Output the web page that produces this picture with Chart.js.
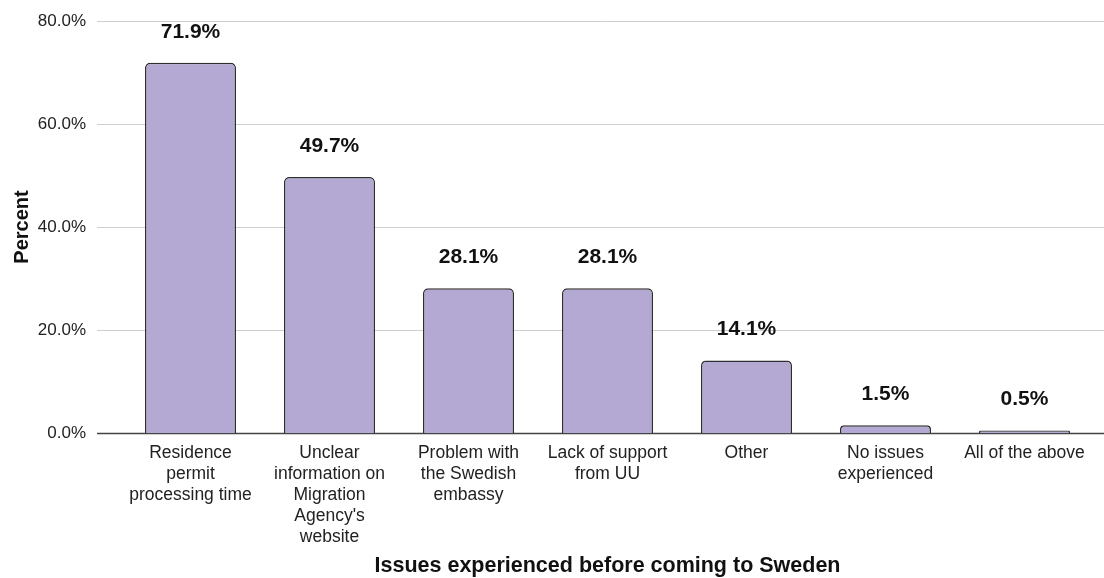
<!DOCTYPE html>
<html>
<head>
<meta charset="utf-8">
<script src="https://cdn.jsdelivr.net/npm/chart.js@4"></script>
<style>
  html, body { margin: 0; padding: 0; background: #fff; }
  #myChart { display: block; }
</style>
</head>
<body>
<canvas id="myChart" width="1104" height="578"></canvas>
<script>
const categories = [
  ["Residence", "permit", "processing time"],
  ["Unclear", "information on", "Migration", "Agency's", "website"],
  ["Problem with", "the Swedish", "embassy"],
  ["Lack of support", "from UU"],
  ["Other"],
  ["No issues", "experienced"],
  ["All of the above"]
];
const percents = [71.9, 49.7, 28.1, 28.1, 14.1, 1.5, 0.5];
const yTicks = [0, 20, 40, 60, 80];

const font = "'Liberation Sans', Arial, sans-serif";

// grid lines run wider than the bar area, so draw them by hand
const wideGrid = {
  id: 'wideGrid',
  beforeDatasetsDraw(chart) {
    const c = chart.ctx;
    const y = chart.scales.y;
    c.save();
    yTicks.forEach(t => {
      const py = Math.round(y.getPixelForValue(t)) + 0.5;
      c.beginPath();
      c.strokeStyle = t === 0 ? '#444' : '#cfcfcf';
      c.lineWidth = t === 0 ? 1.5 : 1;
      c.moveTo(97, py);
      c.lineTo(chart.width, py);
      c.stroke();
    });
    c.restore();
  }
};

const barLabels = {
  id: 'barLabels',
  afterDatasetsDraw(chart) {
    const c = chart.ctx;
    const meta = chart.getDatasetMeta(0);
    c.save();
    c.font = "bold 21px " + font;
    c.fillStyle = '#111';
    c.textAlign = 'center';
    c.textBaseline = 'middle';
    meta.data.forEach((bar, i) => {
      c.fillText(percents[i].toFixed(1) + '%', bar.x, bar.y - 31);
    });
    c.restore();
  }
};

const ctx = document.querySelector("#myChart").getContext('2d');
const chart = new Chart(ctx, {
  type: 'bar',
  data: {
    labels: categories,
    datasets: [{
      data: percents,
      backgroundColor: '#b3a9d3',
      borderColor: '#2e2e2e',
      borderWidth: 1.5,
      borderRadius: { topLeft: 5, topRight: 5 },
      borderSkipped: 'bottom',
      barPercentage: 0.655,
      categoryPercentage: 1
    }]
  },
  options: {
    responsive: false,
    animation: false,
    layout: { padding: { top: 21, right: 10, left: 0, bottom: 0 } },
    plugins: {
      legend: { display: false },
      tooltip: { enabled: false }
    },
    scales: {
      x: {
        afterFit: s => { s.height = 145; s.paddingTop = 0; },
        grid: { display: false },
        border: { display: false },
        ticks: {
          color: '#222',
          font: { family: font, size: 17.5, lineHeight: 1.2 },
          padding: 2,
          maxRotation: 0,
          autoSkip: false
        },
        title: {
          display: true,
          text: 'Issues experienced before coming to Sweden',
          color: '#111',
          font: { family: font, size: 21.5, weight: 'bold' },
          padding: { top: 0, bottom: -1 }
        }
      },
      y: {
        min: 0,
        max: 80,
        afterFit: s => { s.width = 121; s.paddingTop = 0; s.paddingBottom = 0; },
        afterBuildTicks: s => { s.ticks = yTicks.map(v => ({ value: v })); },
        grid: { display: false },
        border: { display: false },
        ticks: {
          color: '#222',
          font: { family: font, size: 17 },
          padding: 27,
          callback: v => v.toFixed(1) + '%'
        },
        title: {
          display: true,
          text: 'Percent',
          color: '#111',
          font: { family: font, size: 20, weight: 'bold' },
          padding: { top: 10, bottom: 0 }
        }
      }
    }
  },
  plugins: [wideGrid, barLabels]
});
</script>
</body>
</html>
